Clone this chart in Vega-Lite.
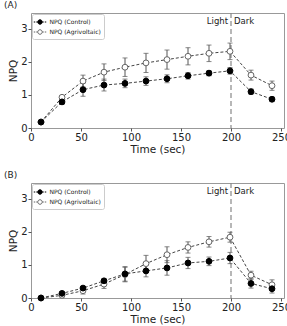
{
  "$schema": "https://vega.github.io/schema/vega-lite/v6.json",
  "padding": {"left": 3, "top": 0, "right": 0, "bottom": 0},
  "background": "white",
  "datasets": {
    "A": [
      {"series": "NPQ (Agrivoltaic)", "t": 10, "npq": 0.18, "err": 0.04},
      {"series": "NPQ (Agrivoltaic)", "t": 31, "npq": 0.93, "err": 0.05},
      {"series": "NPQ (Agrivoltaic)", "t": 52, "npq": 1.42, "err": 0.18},
      {"series": "NPQ (Agrivoltaic)", "t": 73, "npq": 1.69, "err": 0.25},
      {"series": "NPQ (Agrivoltaic)", "t": 94, "npq": 1.84, "err": 0.28},
      {"series": "NPQ (Agrivoltaic)", "t": 115, "npq": 1.97, "err": 0.29},
      {"series": "NPQ (Agrivoltaic)", "t": 136, "npq": 2.07, "err": 0.29},
      {"series": "NPQ (Agrivoltaic)", "t": 157, "npq": 2.17, "err": 0.26},
      {"series": "NPQ (Agrivoltaic)", "t": 178, "npq": 2.26, "err": 0.25},
      {"series": "NPQ (Agrivoltaic)", "t": 199, "npq": 2.32, "err": 0.25},
      {"series": "NPQ (Agrivoltaic)", "t": 220, "npq": 1.6, "err": 0.15},
      {"series": "NPQ (Agrivoltaic)", "t": 241, "npq": 1.28, "err": 0.14},
      {"series": "NPQ (Control)", "t": 10, "npq": 0.18, "err": 0.05},
      {"series": "NPQ (Control)", "t": 31, "npq": 0.79, "err": 0.07},
      {"series": "NPQ (Control)", "t": 52, "npq": 1.16, "err": 0.2},
      {"series": "NPQ (Control)", "t": 73, "npq": 1.3, "err": 0.18},
      {"series": "NPQ (Control)", "t": 94, "npq": 1.35, "err": 0.13},
      {"series": "NPQ (Control)", "t": 115, "npq": 1.42, "err": 0.13},
      {"series": "NPQ (Control)", "t": 136, "npq": 1.49, "err": 0.12},
      {"series": "NPQ (Control)", "t": 157, "npq": 1.58, "err": 0.1},
      {"series": "NPQ (Control)", "t": 178, "npq": 1.66, "err": 0.08},
      {"series": "NPQ (Control)", "t": 199, "npq": 1.73, "err": 0.1},
      {"series": "NPQ (Control)", "t": 220, "npq": 1.1, "err": 0.08},
      {"series": "NPQ (Control)", "t": 241, "npq": 0.87, "err": 0.07}
    ],
    "B": [
      {"series": "NPQ (Agrivoltaic)", "t": 10, "npq": 0.0, "err": 0.02},
      {"series": "NPQ (Agrivoltaic)", "t": 31, "npq": 0.08, "err": 0.04},
      {"series": "NPQ (Agrivoltaic)", "t": 52, "npq": 0.22, "err": 0.1},
      {"series": "NPQ (Agrivoltaic)", "t": 73, "npq": 0.42, "err": 0.13},
      {"series": "NPQ (Agrivoltaic)", "t": 94, "npq": 0.71, "err": 0.22},
      {"series": "NPQ (Agrivoltaic)", "t": 115, "npq": 1.04, "err": 0.25},
      {"series": "NPQ (Agrivoltaic)", "t": 136, "npq": 1.31, "err": 0.24},
      {"series": "NPQ (Agrivoltaic)", "t": 157, "npq": 1.53, "err": 0.17},
      {"series": "NPQ (Agrivoltaic)", "t": 178, "npq": 1.7, "err": 0.16},
      {"series": "NPQ (Agrivoltaic)", "t": 199, "npq": 1.84, "err": 0.15},
      {"series": "NPQ (Agrivoltaic)", "t": 220, "npq": 0.69, "err": 0.12},
      {"series": "NPQ (Agrivoltaic)", "t": 241, "npq": 0.4, "err": 0.15},
      {"series": "NPQ (Control)", "t": 10, "npq": 0.0, "err": 0.02},
      {"series": "NPQ (Control)", "t": 31, "npq": 0.14, "err": 0.05},
      {"series": "NPQ (Control)", "t": 52, "npq": 0.3, "err": 0.05},
      {"series": "NPQ (Control)", "t": 73, "npq": 0.52, "err": 0.06},
      {"series": "NPQ (Control)", "t": 94, "npq": 0.73, "err": 0.22},
      {"series": "NPQ (Control)", "t": 115, "npq": 0.82, "err": 0.18},
      {"series": "NPQ (Control)", "t": 136, "npq": 0.91, "err": 0.22},
      {"series": "NPQ (Control)", "t": 157, "npq": 1.06, "err": 0.17},
      {"series": "NPQ (Control)", "t": 178, "npq": 1.11, "err": 0.13},
      {"series": "NPQ (Control)", "t": 199, "npq": 1.21, "err": 0.17},
      {"series": "NPQ (Control)", "t": 220, "npq": 0.44, "err": 0.14},
      {"series": "NPQ (Control)", "t": 241, "npq": 0.28, "err": 0.13}
    ],
    "one": [{"label": "annotation"}]
  },
  "spacing": 15,
  "resolve": {
    "scale": {"fill": "independent", "stroke": "independent"},
    "legend": {"fill": "independent", "stroke": "independent"}
  },
  "vconcat": [
    {
      "width": 253, "height": 115,
      "title": {"text": "(A)", "anchor": "start", "frame": "group", "dx": -27, "offset": 2},
      "data": {"name": "A"},
      "layer": [
        {"data": {"name": "one"}, "mark": {"type": "rule", "color": "#888", "strokeDash": [5, 3], "strokeWidth": 1.2},
         "encoding": {"x": {"datum": 200, "type": "quantitative", "axis": {"values": [0, 50, 100, 150, 200, 250], "title": "Time (sec)"}}}},
        {"mark": {"type": "line", "strokeDash": [3, 2], "strokeWidth": 1, "color": "#444444"},
         "encoding": {
           "x": {"field": "t", "type": "quantitative", "scale": {"domain": [0, 253], "nice": false}, "axis": {"values": [0, 50, 100, 150, 200, 250], "title": "Time (sec)"}},
           "y": {"field": "npq", "type": "quantitative", "scale": {"domain": [0, 3.48], "nice": false}, "axis": {"values": [0, 1, 2, 3], "title": "NPQ"}},
           "detail": {"field": "series"}
         }},
        {"mark": {"type": "errorbar", "ticks": {"size": 5}, "color": "#555555", "thickness": 1},
         "encoding": {
           "x": {"field": "t", "type": "quantitative", "axis": {"values": [0, 50, 100, 150, 200, 250], "title": "Time (sec)"}},
           "y": {"field": "npq", "type": "quantitative", "axis": {"values": [0, 1, 2, 3], "title": "NPQ"}},
           "yError": {"field": "err"},
           "detail": {"field": "series"}
         }},
        {"mark": {"type": "point", "shape": "circle", "size": 34, "strokeWidth": 1, "opacity": 1},
         "encoding": {
           "x": {"field": "t", "type": "quantitative", "axis": {"values": [0, 50, 100, 150, 200, 250], "title": "Time (sec)"}},
           "y": {"field": "npq", "type": "quantitative", "axis": {"values": [0, 1, 2, 3], "title": "NPQ"}},
           "fill": {"field": "series", "type": "nominal", "scale": {"domain": ["NPQ (Control)", "NPQ (Agrivoltaic)"], "range": ["#000000", "#ffffff"]}, "legend": {"title": null, "orient": "top-left", "symbolType": "M-1.25,0H-0.95M-0.75,0H-0.5M0.5,0H0.75M0.95,0H1.25M0.45,0A0.45,0.45,0,1,1,-0.45,0A0.45,0.45,0,1,1,0.45,0Z"}},
           "stroke": {"field": "series", "type": "nominal", "scale": {"domain": ["NPQ (Control)", "NPQ (Agrivoltaic)"], "range": ["#000000", "#666666"]}, "legend": {"title": null, "orient": "top-left", "symbolType": "M-1.25,0H-0.95M-0.75,0H-0.5M0.5,0H0.75M0.95,0H1.25M0.45,0A0.45,0.45,0,1,1,-0.45,0A0.45,0.45,0,1,1,0.45,0Z"}}
         }},
        {"data": {"name": "one"}, "mark": {"type": "text", "text": "Light", "align": "right", "dx": -3, "baseline": "middle", "fontSize": 8.5, "font": "DejaVu Sans", "color": "#222"},
         "encoding": {"x": {"datum": 200, "type": "quantitative", "axis": {"values": [0, 50, 100, 150, 200, 250], "title": "Time (sec)"}}, "y": {"datum": 3.25, "type": "quantitative", "axis": {"values": [0, 1, 2, 3], "title": "NPQ"}}}},
        {"data": {"name": "one"}, "mark": {"type": "text", "text": "Dark", "align": "left", "dx": 3, "baseline": "middle", "fontSize": 8.5, "font": "DejaVu Sans", "color": "#222"},
         "encoding": {"x": {"datum": 200, "type": "quantitative", "axis": {"values": [0, 50, 100, 150, 200, 250], "title": "Time (sec)"}}, "y": {"datum": 3.25, "type": "quantitative", "axis": {"values": [0, 1, 2, 3], "title": "NPQ"}}}}
      ]
    },
    {
      "width": 253, "height": 115,
      "title": {"text": "(B)", "anchor": "start", "frame": "group", "dx": -27, "offset": 2},
      "data": {"name": "B"},
      "layer": [
        {"data": {"name": "one"}, "mark": {"type": "rule", "color": "#888", "strokeDash": [5, 3], "strokeWidth": 1.2},
         "encoding": {"x": {"datum": 200, "type": "quantitative", "axis": {"values": [0, 50, 100, 150, 200, 250], "title": "Time (sec)"}}}},
        {"mark": {"type": "line", "strokeDash": [3, 2], "strokeWidth": 1, "color": "#444444"},
         "encoding": {
           "x": {"field": "t", "type": "quantitative", "scale": {"domain": [0, 253], "nice": false}, "axis": {"values": [0, 50, 100, 150, 200, 250], "title": "Time (sec)"}},
           "y": {"field": "npq", "type": "quantitative", "scale": {"domain": [0, 3.48], "nice": false}, "axis": {"values": [0, 1, 2, 3], "title": "NPQ"}},
           "detail": {"field": "series"}
         }},
        {"mark": {"type": "errorbar", "ticks": {"size": 5}, "color": "#555555", "thickness": 1},
         "encoding": {
           "x": {"field": "t", "type": "quantitative", "axis": {"values": [0, 50, 100, 150, 200, 250], "title": "Time (sec)"}},
           "y": {"field": "npq", "type": "quantitative", "axis": {"values": [0, 1, 2, 3], "title": "NPQ"}},
           "yError": {"field": "err"},
           "detail": {"field": "series"}
         }},
        {"mark": {"type": "point", "shape": "circle", "size": 34, "strokeWidth": 1, "opacity": 1},
         "encoding": {
           "x": {"field": "t", "type": "quantitative", "axis": {"values": [0, 50, 100, 150, 200, 250], "title": "Time (sec)"}},
           "y": {"field": "npq", "type": "quantitative", "axis": {"values": [0, 1, 2, 3], "title": "NPQ"}},
           "fill": {"field": "series", "type": "nominal", "scale": {"domain": ["NPQ (Control)", "NPQ (Agrivoltaic)"], "range": ["#000000", "#ffffff"]}, "legend": {"title": null, "orient": "top-left", "symbolType": "M-1.25,0H-0.95M-0.75,0H-0.5M0.5,0H0.75M0.95,0H1.25M0.45,0A0.45,0.45,0,1,1,-0.45,0A0.45,0.45,0,1,1,0.45,0Z"}},
           "stroke": {"field": "series", "type": "nominal", "scale": {"domain": ["NPQ (Control)", "NPQ (Agrivoltaic)"], "range": ["#000000", "#666666"]}, "legend": {"title": null, "orient": "top-left", "symbolType": "M-1.25,0H-0.95M-0.75,0H-0.5M0.5,0H0.75M0.95,0H1.25M0.45,0A0.45,0.45,0,1,1,-0.45,0A0.45,0.45,0,1,1,0.45,0Z"}}
         }},
        {"data": {"name": "one"}, "mark": {"type": "text", "text": "Light", "align": "right", "dx": -3, "baseline": "middle", "fontSize": 8.5, "font": "DejaVu Sans", "color": "#222"},
         "encoding": {"x": {"datum": 200, "type": "quantitative", "axis": {"values": [0, 50, 100, 150, 200, 250], "title": "Time (sec)"}}, "y": {"datum": 3.25, "type": "quantitative", "axis": {"values": [0, 1, 2, 3], "title": "NPQ"}}}},
        {"data": {"name": "one"}, "mark": {"type": "text", "text": "Dark", "align": "left", "dx": 3, "baseline": "middle", "fontSize": 8.5, "font": "DejaVu Sans", "color": "#222"},
         "encoding": {"x": {"datum": 200, "type": "quantitative", "axis": {"values": [0, 50, 100, 150, 200, 250], "title": "Time (sec)"}}, "y": {"datum": 3.25, "type": "quantitative", "axis": {"values": [0, 1, 2, 3], "title": "NPQ"}}}}
      ]
    }
  ],
  "config": {
    "view": {"stroke": "#999999", "strokeWidth": 1},
    "font": "DejaVu Sans",
    "title": {"fontSize": 9, "fontWeight": "normal", "font": "DejaVu Sans", "color": "#222"},
    "axis": {
      "grid": false, "domain": false, "tickColor": "#555", "tickSize": 3,
      "labelFont": "DejaVu Sans", "labelFontSize": 10, "labelColor": "#222", "labelPadding": 1,
      "labelFlush": false, "labelOverlap": false, "labelBound": false,
      "titleFont": "DejaVu Sans", "titleFontSize": 10.5, "titleFontWeight": "normal", "titleColor": "#222", "titlePadding": 2
    },
    "legend": {
      "offset": 1, "padding": 2.5, "rowPadding": 0,
      "strokeColor": "#cccccc", "fillColor": "#ffffff", "cornerRadius": 2,
      "labelFont": "DejaVu Sans", "labelFontSize": 6, "labelColor": "#222", "labelOffset": 4,
      "symbolSize": 100, "symbolStrokeWidth": 1
    }
  }
}
